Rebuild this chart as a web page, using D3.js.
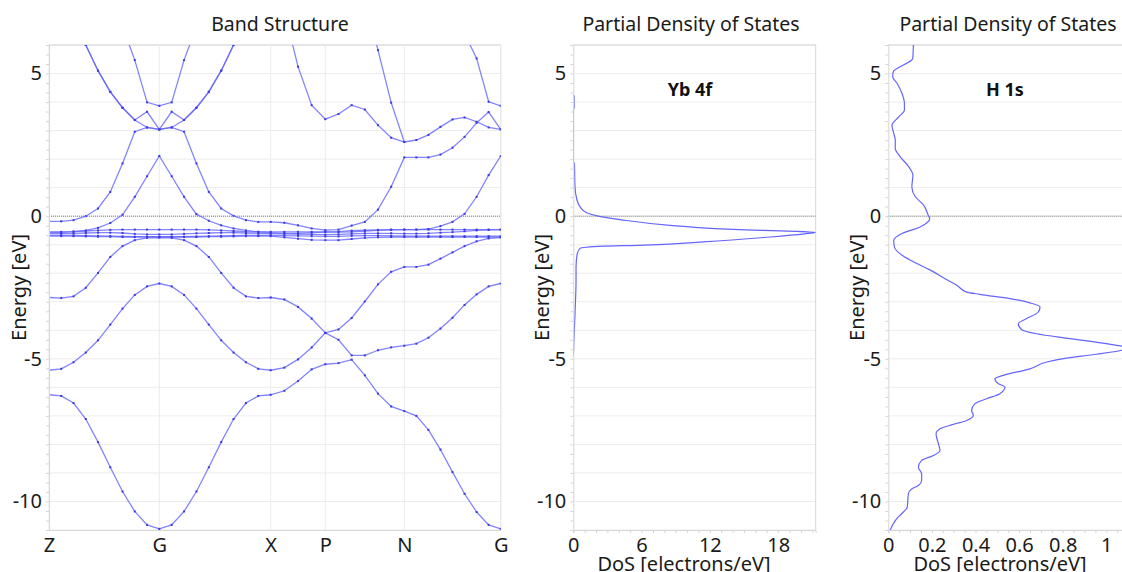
<!DOCTYPE html>
<html>
<head>
<meta charset="utf-8">
<script src="https://cdn.jsdelivr.net/npm/d3@7"></script>
<style>
  body { margin: 0; background: #fff; }
  svg { display: block; font-family: "Noto Sans", sans-serif; }
</style>
</head>
<body>
<div id="chart"></div>
<script>
// k-path: high symmetry points and sampled path positions (normalized distance)
const kLabels = ["Z", "G", "X", "P", "N", "G"];
const kLabelPos = [0, 0.2442, 0.4908, 0.6117, 0.7866, 1.0];
const kPath = [0, 0.0271, 0.0543, 0.0814, 0.1085, 0.1357, 0.1628, 0.1899, 0.2171, 0.2442,
  0.2716, 0.2990, 0.3264, 0.3538, 0.3812, 0.4086, 0.4360, 0.4634, 0.4908,
  0.5210, 0.5513, 0.5815, 0.6117,
  0.6409, 0.6700, 0.6992, 0.7283, 0.7575, 0.7866,
  0.8133, 0.8400, 0.8666, 0.8933, 0.9200, 0.9467, 0.9733, 1.0];

// band energies [eV] at each k-point (null = off the chart)
const band1 = [-6.26, -6.30, -6.55, -7.11, -7.92, -8.80, -9.65, -10.35, -10.82, -10.96,
  -10.82, -10.35, -9.65, -8.80, -7.92, -7.11, -6.55, -6.30, -6.26,
  -6.12, -5.78, -5.37, -5.19,
  -5.15, -5.03, -5.58, -6.22, -6.67, -6.83,
  -7.00, -7.49, -8.18, -8.97, -9.73, -10.37, -10.82, -10.96];
const band2 = [-5.40, -5.35, -5.12, -4.78, -4.35, -3.80, -3.24, -2.76, -2.46, -2.36,
  -2.46, -2.76, -3.24, -3.80, -4.35, -4.78, -5.12, -5.35, -5.40,
  -5.31, -5.02, -4.60, -4.09,
  -4.33, -4.88, -4.88, -4.70, -4.60, -4.54,
  -4.47, -4.26, -3.94, -3.56, -3.11, -2.74, -2.46, -2.36];
const band3 = [-2.85, -2.87, -2.81, -2.51, -1.99, -1.43, -1.05, -0.84, -0.76, -0.75,
  -0.76, -0.84, -1.05, -1.43, -1.99, -2.51, -2.81, -2.87, -2.85,
  -2.92, -3.18, -3.59, -4.09,
  -3.97, -3.57, -2.99, -2.39, -1.95, -1.78,
  -1.78, -1.70, -1.49, -1.27, -1.05, -0.88, -0.78, -0.75];
const fBandA = [-0.55, -0.55, -0.54, -0.52, -0.50, -0.48, -0.47, -0.47, -0.47, -0.47,
  -0.47, -0.47, -0.47, -0.48, -0.50, -0.52, -0.54, -0.55, -0.55,
  -0.55, -0.55, -0.55, -0.55,
  -0.54, -0.51, -0.49, -0.48, -0.47, -0.47,
  -0.47, -0.47, -0.47, -0.47, -0.47, -0.47, -0.47, -0.47];
const fBandB = [-0.61, -0.61, -0.60, -0.59, -0.58, -0.58, -0.59, -0.62, -0.64, -0.64,
  -0.64, -0.62, -0.60, -0.59, -0.58, -0.58, -0.59, -0.60, -0.61,
  -0.62, -0.63, -0.64, -0.65,
  -0.64, -0.62, -0.60, -0.60, -0.60, -0.61,
  -0.61, -0.60, -0.58, -0.56, -0.53, -0.50, -0.48, -0.47];
const fBandC = [-0.67, -0.67, -0.67, -0.68, -0.69, -0.70, -0.71, -0.72, -0.72, -0.72,
  -0.72, -0.72, -0.71, -0.70, -0.69, -0.68, -0.67, -0.67, -0.67,
  -0.68, -0.69, -0.70, -0.71,
  -0.71, -0.69, -0.68, -0.68, -0.69, -0.70,
  -0.70, -0.70, -0.70, -0.70, -0.70, -0.70, -0.70, -0.70];
const fBandD = [-0.70, -0.70, -0.70, -0.71, -0.72, -0.72, -0.73, -0.73, -0.73, -0.73,
  -0.73, -0.73, -0.73, -0.72, -0.72, -0.71, -0.70, -0.70, -0.70,
  -0.74, -0.79, -0.83, -0.84,
  -0.84, -0.80, -0.76, -0.74, -0.73, -0.73,
  -0.73, -0.73, -0.73, -0.73, -0.73, -0.73, -0.73, -0.73];
const band4 = [-0.57, -0.57, -0.54, -0.50, -0.41, -0.24, 0.05, 0.68, 1.40, 2.11,
  1.40, 0.68, 0.07, -0.16, -0.32, -0.43, -0.50, -0.55, -0.58,
  -0.60, -0.60, -0.58, -0.56,
  -0.56, -0.55, -0.52, -0.50, -0.48, -0.47,
  -0.47, -0.45, -0.35, -0.20, 0.08, 0.68, 1.44, 2.11];
const band5 = [-0.18, -0.18, -0.14, 0.00, 0.27, 0.85, 1.85, 2.96, 3.11, 3.04,
  3.11, 2.96, 1.85, 0.85, 0.27, 0.01, -0.14, -0.20, -0.20,
  -0.23, -0.32, -0.43, -0.49,
  -0.47, -0.33, -0.20, 0.23, 1.03, 2.06,
  2.06, 2.06, 2.16, 2.40, 2.78, 3.27, 3.65, 3.04];
const band6 = [null, null, 7.10, 6.00, 5.10, 4.36, 3.80, 3.37, 3.11, 3.04,
  3.11, 3.37, 3.80, 4.36, 5.10, 6.00, 7.10, null, null,
  null, null, null, null, null, null, null, null, null, null,
  null, null, null, null, null, null, null, null];
const band7 = [null, null, 7.10, 6.00, 5.10, 4.36, 3.80, 3.37, 3.66, 3.04,
  3.66, 3.37, 3.80, 4.36, 5.10, 6.00, 7.10, null, null,
  null, null, null, null, null, null, null, null, null, null,
  null, null, null, null, null, null, null, null];
const band8 = [null, null, null, null, null, null, 6.65, 5.47, 3.99, 3.87,
  3.99, 5.47, 6.65, null, null, null, null, null, null,
  null, null, null, null, null, null, null, null, null, null,
  null, null, null, null, null, null, null, null];
const band9 = [null, null, null, null, null, null, null, null, null, null,
  null, null, null, null, null, null, null, null, null,
  7.19, 5.24, 3.89, 3.40,
  3.58, 3.89, 3.74, 3.19, 2.75, 2.60,
  2.67, 2.85, 3.13, 3.39, 3.46, 3.31, 3.11, 3.04];
const band10 = [null, null, null, null, null, null, null, null, null, null,
  null, null, null, null, null, null, null, null, null,
  null, null, null, null,
  null, null, 7.60, 5.82, 3.98, 2.60,
  null, null, null, null, null, null, null, null];
const band11 = [null, null, null, null, null, null, null, null, null, null,
  null, null, null, null, null, null, null, null, null,
  null, null, null, null,
  null, null, null, null, null, null,
  null, null, null, null, 6.40, 5.53, 4.01, 3.87];
const bands = [band1, band2, band3, fBandA, fBandB, fBandC, fBandD, band4, band5,
  band6, band7, band8, band9, band10, band11];

// Yb 4f partial DoS
const ybEnergy = [6.0, 4.25, 4.2, 3.8, 3.75, 1.9, 1.85, 1.5, 1.03, 0.62, 0.33, 0.12, 0.0, -0.12,
  -0.32, -0.49, -0.53, -0.57, -0.62, -0.73, -0.9, -1.02, -1.05, -1.13, -1.31, -1.78, -2.25,
  -3.41, -4.12, -4.88, -11.0];
const ybDos = [0, 0, 0.08, 0.08, 0, 0, 0.1, 0.12, 0.15, 0.29, 0.59, 1.17, 2.2, 4.1,
  8.5, 15.8, 19.6, 21.3, 20.3, 17.3, 11.4, 5.6, 2.6, 0.59, 0.35, 0.24, 0.24,
  0.15, 0.08, 0, 0];

// H 1s partial DoS
const hEnergy = [6.0, 5.53, 5.06, 4.89, 4.66, 4.3, 3.95, 3.72, 3.48, 3.19, 2.9, 2.67, 2.37, 2.08,
  1.73, 1.44, 1.03, 0.68, 0.39, 0.0, -0.08, -0.37, -0.61, -0.84, -1.08, -1.37, -1.66, -1.89,
  -2.19, -2.42, -2.66, -2.74, -2.89, -3.04, -3.18, -3.36, -3.59, -3.77, -3.98, -4.12, -4.29,
  -4.47, -4.62, -4.70, -4.84, -4.99, -5.11, -5.35, -5.58, -5.70, -5.87, -5.99, -6.22, -6.40,
  -6.57, -6.81, -6.98, -7.16, -7.30, -7.45, -7.63, -7.98, -8.21, -8.39, -8.56, -8.80, -9.03,
  -9.26, -9.44, -9.56, -9.73, -10.2, -10.43, -10.61, -11.02];
const hDos = [0.115, 0.112, 0.023, 0.02, 0.04, 0.063, 0.074, 0.074, 0.048, 0.017, 0.025, 0.032,
  0.032, 0.055, 0.094, 0.113, 0.108, 0.124, 0.162, 0.185, 0.19, 0.148, 0.063, 0.025, 0.028,
  0.063, 0.131, 0.193, 0.26, 0.314, 0.36, 0.42, 0.558, 0.65, 0.696, 0.688, 0.635, 0.596, 0.612,
  0.68, 0.833, 1.0, 1.1, 1.07, 0.956, 0.803, 0.727, 0.65, 0.528, 0.489, 0.505, 0.535, 0.512,
  0.451, 0.398, 0.382, 0.39, 0.36, 0.298, 0.237, 0.219, 0.23, 0.237, 0.207, 0.153, 0.138,
  0.153, 0.153, 0.138, 0.107, 0.092, 0.087, 0.061, 0.038, 0.008];

const energyTicks = [5, 0, -5, -10];
const ybTicks = [0, 6, 12, 18];
const hTicks = [0, 0.2, 0.4, 0.6, 0.8, 1];

// Layout
const plotTop = 45, plotBottom = 530;
const bandBox = {left: 49, right: 500.7};
const ybBox = {left: 573.3, right: 815.7};
const hBox = {left: 888.3, right: 1122};

const svg = d3.select("#chart")
    .append("svg")
    .attr("width", 1122)
    .attr("height", 572);

const y = d3.scaleLinear().domain([-11, 6]).range([plotBottom, plotTop]);

const gridColor = "#ececec";
const frameColor = "#d6d6d6";
const lineBlue = "#6464ff";

function drawFrame(box, id, rightBorder) {
    const g = svg.append("g");

    // horizontal grid every 1 eV
    g.selectAll("line.hgrid")
        .data(d3.range(-11, 7))
        .enter().append("line")
        .attr("x1", box.left).attr("x2", box.right)
        .attr("y1", d => y(d)).attr("y2", d => y(d))
        .attr("stroke", gridColor);

    // top border, right border
    g.append("line")
        .attr("x1", box.left).attr("x2", box.right)
        .attr("y1", plotTop).attr("y2", plotTop)
        .attr("stroke", frameColor);
    if (rightBorder) {
        g.append("line")
            .attr("x1", box.right).attr("x2", box.right)
            .attr("y1", plotTop).attr("y2", plotBottom)
            .attr("stroke", frameColor);
    }

    // clip for data
    svg.append("clipPath").attr("id", id)
        .append("rect")
        .attr("x", box.left).attr("y", plotTop)
        .attr("width", box.right - box.left).attr("height", plotBottom - plotTop);
    return g;
}

function drawEnergyAxis(box, labelX) {
    // minor ticks every 1/3 eV
    const minor = svg.append("g")
        .attr("transform", `translate(${box.left},0)`)
        .call(d3.axisLeft(y).tickValues(d3.range(-33, 19).map(d => d / 3)).tickSize(3).tickFormat(""));
    minor.selectAll("line").attr("stroke", frameColor);
    minor.select(".domain").attr("stroke", frameColor);

    const labels = svg.append("g")
        .attr("transform", `translate(${box.left},0)`)
        .call(d3.axisLeft(y).tickValues(energyTicks).tickSize(0).tickPadding(7).tickFormat(d => String(d)));
    labels.select(".domain").remove();
    labels.selectAll("text")
        .style("font-family", '"Noto Sans", sans-serif')
        .style("font-size", "20px")
        .attr("fill", "#1a1a1a");

    svg.append("text")
        .attr("transform", `translate(${labelX},${(plotTop + plotBottom) / 2}) rotate(-90)`)
        .style("text-anchor", "middle")
        .style("font-size", "20px")
        .attr("fill", "#1a1a1a")
        .text("Energy [eV]");
}

function drawFermi(box) {
    svg.append("line")
        .attr("x1", box.left).attr("x2", box.right)
        .attr("y1", y(0)).attr("y2", y(0))
        .attr("stroke", "#7a7a7a")
        .attr("stroke-dasharray", "1,1");
}

function drawTitle(text, cx) {
    svg.append("text")
        .attr("x", cx).attr("y", 31)
        .style("text-anchor", "middle")
        .style("font-size", "19.5px")
        .attr("fill", "#1a1a1a")
        .text(text);
}

// ---------- Band structure ----------
const kx = d3.scaleLinear().domain([0, 1]).range([bandBox.left, bandBox.right]);

const bandFrame = drawFrame(bandBox, "clipBand", true);
bandFrame.selectAll("line.vgrid")
    .data(kLabelPos)
    .enter().append("line")
    .attr("x1", d => kx(d)).attr("x2", d => kx(d))
    .attr("y1", plotTop).attr("y2", plotBottom)
    .attr("stroke", gridColor);

const bandG = svg.append("g").attr("clip-path", "url(#clipBand)");
const bandLine = d3.line()
    .defined(d => d[1] !== null)
    .x(d => kx(d[0]))
    .y(d => y(d[1]));

bands.forEach(function(b) {
    const pts = kPath.map((k, i) => [k, b[i]]);
    bandG.append("path")
        .datum(pts)
        .attr("d", bandLine)
        .attr("fill", "none")
        .attr("stroke", lineBlue)
        .attr("stroke-opacity", 0.8)
        .attr("stroke-width", 1.3);
    bandG.selectAll(null)
        .data(pts.filter(p => p[1] !== null))
        .enter().append("rect")
        .attr("x", d => kx(d[0]) - 1)
        .attr("y", d => y(d[1]) - 1)
        .attr("width", 2)
        .attr("height", 2)
        .attr("fill", "#3a3ae0");
});

drawFermi(bandBox);

// bottom axis with symmetry labels
const kAxis = svg.append("g")
    .attr("transform", `translate(0,${plotBottom})`)
    .call(d3.axisBottom(kx).tickValues(kLabelPos).tickSize(0).tickPadding(8).tickFormat((d, i) => kLabels[i]));
kAxis.select(".domain").attr("stroke", frameColor);
kAxis.selectAll("text")
    .style("font-family", '"Noto Sans", sans-serif')
    .style("font-size", "20px")
    .attr("fill", "#1a1a1a");

drawEnergyAxis(bandBox, 26);
drawTitle("Band Structure", 280);

// ---------- DoS panels ----------
function drawDos(box, clipId, xMax, energies, values, ticks, minorStep, name, labelX, nameX, dosLabelX, rightBorder) {
    const x = d3.scaleLinear().domain([0, xMax]).range([box.left, box.right]);
    drawFrame(box, clipId, rightBorder);

    const pts = energies.map((e, i) => [values[i], e]);
    const line = d3.line()
        .defined((d, i) => d[0] > 0 || (i > 0 && pts[i - 1][0] > 0) || (i < pts.length - 1 && pts[i + 1][0] > 0))
        .x(d => x(d[0]))
        .y(d => y(d[1]))
        .curve(d3.curveMonotoneY);

    svg.append("g").attr("clip-path", `url(#${clipId})`)
        .append("path")
        .datum(pts)
        .attr("d", line)
        .attr("fill", "none")
        .attr("stroke", lineBlue)
        .attr("stroke-width", 1.2);

    drawFermi(box);

    // bottom minor ticks
    const minor = svg.append("g")
        .attr("transform", `translate(0,${plotBottom})`)
        .call(d3.axisBottom(x).tickValues(d3.range(0, xMax + 1e-9, minorStep)).tickSize(3).tickFormat(""));
    minor.selectAll("line").attr("stroke", frameColor);
    minor.select(".domain").attr("stroke", frameColor);

    const labels = svg.append("g")
        .attr("transform", `translate(0,${plotBottom})`)
        .call(d3.axisBottom(x).tickValues(ticks).tickSize(0).tickPadding(8).tickFormat(d => String(d)));
    labels.select(".domain").remove();
    labels.selectAll("text")
        .style("font-family", '"Noto Sans", sans-serif')
        .style("font-size", "20px")
        .attr("fill", "#1a1a1a");

    drawEnergyAxis(box, labelX);

    svg.append("text")
        .attr("x", dosLabelX).attr("y", 571)
        .style("text-anchor", "middle")
        .style("font-size", "20px")
        .attr("fill", "#1a1a1a")
        .text("DoS [electrons/eV]");

    svg.append("text")
        .attr("x", nameX).attr("y", 96)
        .style("text-anchor", "middle")
        .style("font-size", "18px")
        .style("font-weight", "bold")
        .attr("fill", "#111")
        .text(name);
}

drawDos(ybBox, "clipYb", 21.3, ybEnergy, ybDos, ybTicks, 1, "Yb 4f", 549, 690, 684, true);
drawTitle("Partial Density of States", 691);

drawDos(hBox, "clipH", 1.072, hEnergy, hDos, hTicks, 0.05, "H 1s", 864, 1005, 1000, false);
drawTitle("Partial Density of States", 1008);
</script>
</body>
</html>
